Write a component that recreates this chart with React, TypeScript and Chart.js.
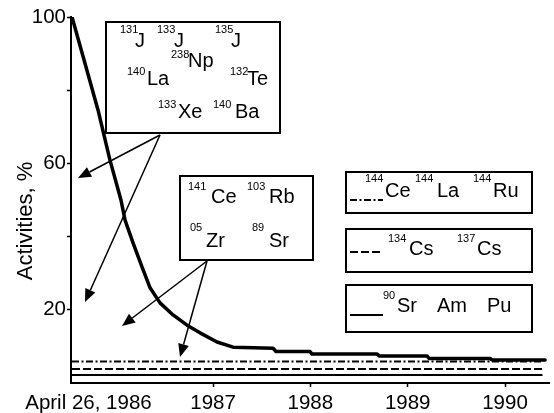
import React, { useEffect, useRef } from 'react';
import { Chart, registerables } from 'chart.js';

Chart.register(...registerables);

const FONT = '"Liberation Sans", Arial, Helvetica, sans-serif';

// ---- data (x in fractional years, y in % activity) ----
const mainYears = [
  1985.551, 1985.674, 1985.818, 1985.941, 1986.054, 1986.096, 1986.178, 1986.27,
  1986.353, 1986.455, 1986.589, 1986.733, 1986.866, 1987.041, 1987.206, 1987.617,
  1987.647, 1987.997, 1988.017, 1988.686, 1988.707, 1989.199, 1989.22, 1989.847,
  1989.867, 1990.412,
];
const mainActivity = [
  100, 88.3, 74.6, 60.9, 50.0, 44.5, 38.3, 31.7,
  26.0, 21.9, 18.6, 15.8, 13.7, 11.2, 9.8, 9.5,
  8.6, 8.6, 7.9, 7.9, 7.4, 7.4, 6.7, 6.7,
  6.3, 6.3,
];
const flatYears = [1985.551, 1990.385];
const ceLaRuActivity = [5.9, 5.9];
const csActivity = [3.8, 3.8];
const srAmPuActivity = [2.2, 2.2];

const yTickValues = [0, 20, 40, 60, 80, 100];
const yTickLabels = ['', '20', '', '60', '', '100'];
const xTickValues = [1985.72, 1987, 1988, 1989, 1990];
const xTickLabels = ['April 26, 1986', '1987', '1988', '1989', '1990'];
const xMin = 1985.5406;
const xMax = 1990.452;

// annotation arrows: tip in data coordinates
const arrowTipYears = [1985.6125, 1985.6845, 1986.0647, 1986.6608];
const arrowTipActivity = [56.0, 22.1, 15.6, 7.1];

// ---- layout of annotation boxes (pixels) ----
const boxes = [
  { x1: 106, y1: 22, x2: 280, y2: 133 },
  { x1: 180, y1: 176, x2: 313, y2: 260 },
  { x1: 346, y1: 172, x2: 532, y2: 213 },
  { x1: 346, y1: 229, x2: 532, y2: 272 },
  { x1: 346, y1: 285, x2: 532, y2: 332 },
];
const arrowOrigins = [
  [160, 135],
  [160, 135],
  [207, 261],
  [207, 261],
];
type Iso = { sup: string; sym: string; supX: number; symX: number; y: number; rise: number };
const isotopes: Iso[] = [
  { sup: '131', sym: 'J', supX: 120, symX: 135, y: 47, rise: 14 },
  { sup: '133', sym: 'J', supX: 157, symX: 174, y: 47, rise: 14 },
  { sup: '135', sym: 'J', supX: 215, symX: 231, y: 47, rise: 14 },
  { sup: '238', sym: 'Np', supX: 171, symX: 188, y: 67, rise: 9 },
  { sup: '140', sym: 'La', supX: 127, symX: 147, y: 85, rise: 10 },
  { sup: '132', sym: 'Te', supX: 230, symX: 247, y: 85, rise: 10 },
  { sup: '133', sym: 'Xe', supX: 158, symX: 178, y: 118, rise: 10 },
  { sup: '140', sym: 'Ba', supX: 213, symX: 235, y: 118, rise: 10 },
  { sup: '141', sym: 'Ce', supX: 188, symX: 211, y: 203, rise: 13 },
  { sup: '103', sym: 'Rb', supX: 247, symX: 269, y: 203, rise: 13 },
  { sup: '05', sym: 'Zr', supX: 190, symX: 206, y: 247, rise: 16 },
  { sup: '89', sym: 'Sr', supX: 252, symX: 269, y: 247, rise: 16 },
  { sup: '144', sym: 'Ce', supX: 365, symX: 385, y: 197, rise: 15 },
  { sup: '144', sym: 'La', supX: 415, symX: 437, y: 197, rise: 15 },
  { sup: '144', sym: 'Ru', supX: 473, symX: 493, y: 197, rise: 15 },
  { sup: '134', sym: 'Cs', supX: 388, symX: 409, y: 255, rise: 13 },
  { sup: '137', sym: 'Cs', supX: 457, symX: 477, y: 255, rise: 13 },
  { sup: '90', sym: 'Sr', supX: 383, symX: 397, y: 312, rise: 13 },
  { sup: '', sym: 'Am', supX: 437, symX: 437, y: 312, rise: 0 },
  { sup: '', sym: 'Pu', supX: 487, symX: 487, y: 312, rise: 0 },
];
const legendSamples = [
  { dataset: 1, x1: 350, x2: 383, y: 200 },
  { dataset: 2, x1: 350, x2: 382, y: 252 },
  { dataset: 3, x1: 350, x2: 383, y: 315 },
];

const annotationPlugin = {
  id: 'annotations',
  beforeDraw(chart: any) {
    const ctx = chart.ctx;
    ctx.save();
    ctx.fillStyle = '#fff';
    ctx.fillRect(0, 0, chart.width, chart.height);
    ctx.restore();
  },
  afterDatasetsDraw(chart: any) {
    const ctx: CanvasRenderingContext2D = chart.ctx;
    const xs = chart.scales.x;
    const ys = chart.scales.y;
    ctx.save();

    // y axis title
    ctx.save();
    ctx.translate(32, 221);
    ctx.rotate(-Math.PI / 2);
    ctx.font = `22px ${FONT}`;
    ctx.fillStyle = '#000';
    ctx.textAlign = 'center';
    ctx.textBaseline = 'alphabetic';
    ctx.fillText('Activities, %', 0, 0);
    ctx.restore();

    // boxes
    ctx.lineWidth = 2;
    ctx.strokeStyle = '#000';
    for (const b of boxes) {
      ctx.fillStyle = '#fff';
      ctx.fillRect(b.x1, b.y1, b.x2 - b.x1, b.y2 - b.y1);
      ctx.strokeRect(b.x1, b.y1, b.x2 - b.x1, b.y2 - b.y1);
    }

    // arrows
    arrowOrigins.forEach(([ox, oy], i) => {
      const tx = xs.getPixelForValue(arrowTipYears[i]);
      const ty = ys.getPixelForValue(arrowTipActivity[i]);
      const dx = tx - ox;
      const dy = ty - oy;
      const len = Math.hypot(dx, dy);
      const ux = dx / len;
      const uy = dy / len;
      const head = 13;
      const half = 5.5;
      const bx = tx - ux * head;
      const by = ty - uy * head;
      ctx.beginPath();
      ctx.lineWidth = 1.5;
      ctx.moveTo(ox, oy);
      ctx.lineTo(bx, by);
      ctx.stroke();
      ctx.beginPath();
      ctx.fillStyle = '#000';
      ctx.moveTo(tx, ty);
      ctx.lineTo(bx - uy * half, by + ux * half);
      ctx.lineTo(bx + uy * half, by - ux * half);
      ctx.closePath();
      ctx.fill();
    });

    // isotope labels
    ctx.fillStyle = '#000';
    ctx.textAlign = 'left';
    ctx.textBaseline = 'alphabetic';
    for (const it of isotopes) {
      if (it.sup) {
        ctx.font = `11px ${FONT}`;
        ctx.fillText(it.sup, it.supX, it.y - it.rise);
      }
      ctx.font = `20px ${FONT}`;
      ctx.fillText(it.sym, it.symX, it.y);
    }

    // legend line samples, styled like the datasets
    for (const s of legendSamples) {
      const ds = chart.data.datasets[s.dataset];
      ctx.beginPath();
      ctx.lineWidth = ds.borderWidth;
      ctx.strokeStyle = ds.borderColor;
      ctx.setLineDash(ds.borderDash || []);
      ctx.moveTo(s.x1, s.y);
      ctx.lineTo(s.x2, s.y);
      ctx.stroke();
      ctx.setLineDash([]);
    }
    ctx.restore();
  },
};

export default function App() {
  const ref = useRef<HTMLCanvasElement | null>(null);

  useEffect(() => {
    if (!ref.current) return;
    const pts = (xsArr: number[], ysArr: number[]) => xsArr.map((x, i) => ({ x, y: ysArr[i] }));
    const chart = new Chart(ref.current, {
      type: 'line',
      data: {
        datasets: [
          {
            label: 'Total activity',
            data: pts(mainYears, mainActivity),
            borderColor: '#000',
            borderWidth: 3.5,
            pointRadius: 0,
            tension: 0,
            borderJoinStyle: 'round',
            borderCapStyle: 'round',
          },
          {
            label: '144Ce 144La 144Ru',
            data: pts(flatYears, ceLaRuActivity),
            borderColor: '#000',
            borderWidth: 2,
            borderDash: [7, 2.5, 2, 2.5],
            pointRadius: 0,
          },
          {
            label: '134Cs 137Cs',
            data: pts(flatYears, csActivity),
            borderColor: '#000',
            borderWidth: 2,
            borderDash: [8, 3],
            pointRadius: 0,
          },
          {
            label: '90Sr Am Pu',
            data: pts(flatYears, srAmPuActivity),
            borderColor: '#000',
            borderWidth: 2,
            pointRadius: 0,
          },
        ],
      } as any,
      options: {
        animation: false,
        responsive: false,
        layout: { padding: { top: 17, right: 5, left: 0, bottom: 0 } },
        plugins: { legend: { display: false }, tooltip: { enabled: false } },
        scales: {
          x: {
            type: 'linear',
            min: xMin,
            max: xMax,
            afterFit: (s: any) => {
              s.height = 30;
            },
            afterBuildTicks: (s: any) => {
              s.ticks = xTickValues.map((v) => ({ value: v }));
            },
            ticks: {
              autoSkip: false,
              maxRotation: 0,
              minRotation: 0,
              color: '#000',
              padding: 4,
              font: { family: FONT, size: 20.5 },
              callback: (_v: any, i: number) => xTickLabels[i],
            },
            grid: {
              drawOnChartArea: false,
              drawTicks: true,
              tickLength: 4,
              tickWidth: 1.5,
              tickColor: (c: any) => (c.index === 0 ? 'rgba(0,0,0,0)' : '#000'),
            },
            border: { display: true, color: '#000', width: 2 },
          },
          y: {
            type: 'linear',
            min: 0,
            max: 100,
            afterFit: (s: any) => {
              s.width = 71;
            },
            afterBuildTicks: (s: any) => {
              s.ticks = yTickValues.map((v) => ({ value: v }));
            },
            ticks: {
              color: '#000',
              padding: 1,
              font: { family: FONT, size: 20.5 },
              callback: (_v: any, i: number) => yTickLabels[i],
            },
            grid: {
              drawOnChartArea: false,
              drawTicks: true,
              tickLength: 4,
              tickWidth: 1.5,
              tickColor: (c: any) => (c.index === 0 ? 'rgba(0,0,0,0)' : '#000'),
            },
            border: { display: true, color: '#000', width: 2 },
          },
        },
      } as any,
      plugins: [annotationPlugin],
    });
    return () => chart.destroy();
  }, []);

  return (
    <div style={{ position: 'fixed', left: 0, top: 0, width: 554, height: 413, background: '#fff' }}>
      <canvas ref={ref} width={554} height={413} style={{ display: 'block' }} />
    </div>
  );
}
